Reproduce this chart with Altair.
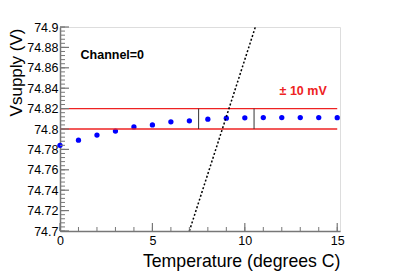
import altair as alt
import pandas as pd

# Data
temps = [0, 1, 2, 3, 4, 5, 6, 7, 8, 9, 10, 11, 12, 13, 14, 15]
vsupply = [74.784, 74.789, 74.794, 74.798, 74.802, 74.804, 74.807, 74.808,
           74.8096, 74.8106, 74.811, 74.8112, 74.8112, 74.8112, 74.8112, 74.8111]
band_levels = [74.80, 74.82]
band_x = [0, 15]
band_edges = [7.5, 10.5]
fit_x = [7.0, 10.57]
fit_y = [74.7, 74.9]
y_major = [74.7, 74.72, 74.74, 74.76, 74.78, 74.8, 74.82, 74.84, 74.86, 74.88, 74.9]
y_minor = [round(74.7 + 0.004 * i, 3) for i in range(51)]
x_major = [0, 5, 10, 15]
x_minor = list(range(16))

W, H = 280, 204
xs = alt.Scale(domain=[0, 15.15], nice=False, zero=False)
ys = alt.Scale(domain=[74.7, 74.9], nice=False, zero=False)
font = "Liberation Sans"

x_axis = alt.Axis(title="Temperature (degrees C)", values=x_major, ticks=False,
                  grid=False, domainColor="#777", domainWidth=1.5,
                  labelFont=font, labelFontSize=12.5, labelColor="#000",
                  labelPadding=3, labelOverlap=False, labelFlush=False,
                  titleFont=font, titleFontSize=17.7,
                  titleFontWeight="normal", titleColor="#000",
                  titleX=280, titleY=35, titleAlign="right",
                  titleBaseline="alphabetic")
y_axis = alt.Axis(title="Vsupply (V)", values=y_major, ticks=False, format=".2~f",
                  grid=False, domainColor="#777", domainWidth=1.5,
                  labelFont=font, labelFontSize=12.5, labelColor="#000",
                  labelPadding=2, labelOverlap=False, labelFlush=False,
                  titleFont=font, titleFontSize=17,
                  titleFontWeight="normal", titleColor="#000",
                  titleX=-39, titleY=1, titleAlign="right", titleAngle=270,
                  titleBaseline="alphabetic")

def X(f="t"):
    return alt.X(f"{f}:Q", scale=xs, axis=x_axis)

def Y(f="v"):
    return alt.Y(f"{f}:Q", scale=ys, axis=y_axis)

pts = pd.DataFrame({"t": temps, "v": vsupply})
points = alt.Chart(pts).mark_circle(color="#0000ff", opacity=1, size=28).encode(x=X(), y=Y())

band_df = pd.DataFrame([{"t": band_x[0], "t2": band_x[1], "v": lv} for lv in band_levels])
band = alt.Chart(band_df).mark_rule(color="#ee2222", strokeWidth=1.4).encode(
    x=X(), x2="t2:Q", y=Y())

edge_df = pd.DataFrame({"t": band_edges, "v": [band_levels[0]] * 2, "v2": [band_levels[1]] * 2})
edges = alt.Chart(edge_df).mark_rule(color="#333", strokeWidth=1).encode(
    x=X(), y=Y(), y2="v2:Q")

fit_df = pd.DataFrame({"t": [fit_x[0]], "t2": [fit_x[1]], "v": [fit_y[0]], "v2": [fit_y[1]]})
fit = alt.Chart(fit_df).mark_rule(color="#000", strokeWidth=1.5, strokeDash=[2, 2]).encode(
    x=X(), x2="t2:Q", y=Y(), y2="v2:Q")

ymaj = alt.Chart(pd.DataFrame({"v": y_major})).mark_rule(color="#777", strokeWidth=1.2).encode(
    y=Y(), x=alt.value(0), x2=alt.value(9))
ymin = alt.Chart(pd.DataFrame({"v": y_minor})).mark_rule(color="#777", strokeWidth=1).encode(
    y=Y(), x=alt.value(0), x2=alt.value(5))
xmaj = alt.Chart(pd.DataFrame({"t": x_major})).mark_rule(color="#777", strokeWidth=1.2).encode(
    x=X(), y=alt.value(H), y2=alt.value(H - 8))
xmin = alt.Chart(pd.DataFrame({"t": x_minor})).mark_rule(color="#777", strokeWidth=1).encode(
    x=X(), y=alt.value(H), y2=alt.value(H - 4))

labels_df = pd.DataFrame({"t": [1.11], "v": [74.873], "s": ["Channel=0"]})
chan = alt.Chart(labels_df).mark_text(font=font, fontSize=12.5, fontWeight="bold", color="#000",
                                      align="left", baseline="middle").encode(
    x=X(), y=Y(), text="s:N")
mv_df = pd.DataFrame({"t": [11.88], "v": [74.837], "s": ["± 10 mV"]})
mv = alt.Chart(mv_df).mark_text(font=font, fontSize=12.5, fontWeight="bold", color="#ee2222",
                                align="left", baseline="middle").encode(
    x=X(), y=Y(), text="s:N")

chart = alt.layer(points, band, edges, fit, ymaj, ymin, xmaj, xmin, chan, mv).properties(
    width=W, height=H,
    autosize=alt.AutoSizeParams(type="none"),
    padding={"left": 52, "top": 19, "right": 52, "bottom": 40},
).configure_view(stroke="#555", strokeWidth=1.2).configure(background="white")

chart.save("out.html", embed_options={"renderer": "svg", "actions": False})
